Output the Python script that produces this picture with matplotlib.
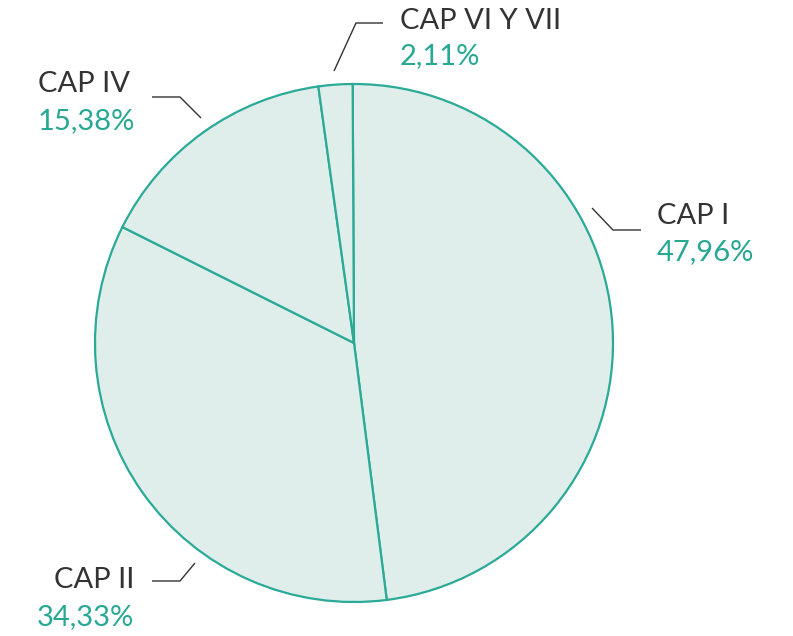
import matplotlib.pyplot as plt
from matplotlib import font_manager

# ── Data ──────────────────────────────────────────────────────────────────────
labels = ["CAP I", "CAP II", "CAP IV", "CAP VI Y VII"]
shares = [47.96, 34.33, 15.38, 2.11]
pct_text = ["47,96%", "34,33%", "15,38%", "2,11%"]

FILL = "#DFEEEA"
EDGE = "#2AAA97"
TXT = "#333333"
PCT = "#27A893"
LINE = "#333333"

fams = {f.name for f in font_manager.fontManager.ttflist}
family = "Lato" if "Lato" in fams else "DejaVu Sans"

W, H = 793, 636
fig = plt.figure(figsize=(W / 100, H / 100), dpi=100)
ax = fig.add_axes([0, 0, 1, 1])
ax.set_xlim(0, W)
ax.set_ylim(0, H)
ax.set_aspect("equal")
ax.axis("off")

# pixel coords (y from top) -> axes coords
def P(x, y):
    return x, H - y

cx, cy = P(354, 343)
ax.pie(shares, center=(cx, cy), radius=259, startangle=90.3, counterclock=False,
       colors=[FILL] * len(shares),
       wedgeprops=dict(edgecolor=EDGE, linewidth=1.6))
ax.set_xlim(0, W)
ax.set_ylim(0, H)

# leader lines (picture coords)
leaders = [
    [(592, 208), (613, 230), (641, 230)],   # CAP I
    [(195, 563), (180, 581), (152, 581)],   # CAP II
    [(201, 118), (180, 97), (152, 97)],     # CAP IV
    [(334, 71), (356, 23), (383, 23)],      # CAP VI Y VII
]
for pts in leaders:
    xs, ys = zip(*[P(*p) for p in pts])
    ax.plot(xs, ys, color=LINE, lw=1.0, solid_capstyle="butt")

# label positions: (x, y name, y pct, ha name, x pct)
pos = [
    (657, 216, 252, "left", 657),
    (134, 580, 617, "right", 37),
    (38, 84, 121, "left", 38),
    (400, 21, 56, "left", 400),
]
fs = 21
for lab, pt, (x, yn, yp, ha, xp) in zip(labels, pct_text, pos):
    ax.text(*P(x, yn), lab, ha=ha, va="center", fontsize=fs, color=TXT,
            family=family, fontweight="normal")
    ax.text(*P(xp, yp), pt, ha="left", va="center", fontsize=fs, color=PCT,
            family=family, fontweight="normal")

fig.savefig("out.png", dpi=100, facecolor="white")
